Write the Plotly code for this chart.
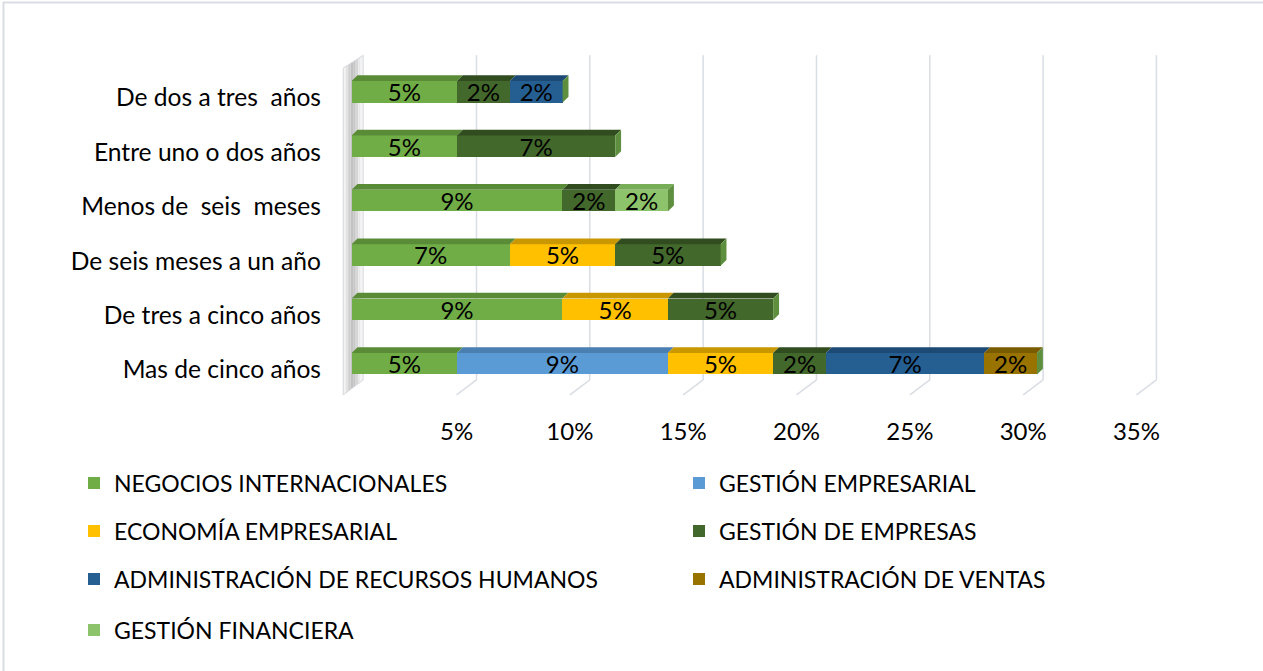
import plotly.graph_objects as go

# ---------------- data ----------------
categories = ["Mas de cinco años", "De tres a cinco años", "De seis meses a un año",
              "Menos de\u00a0 seis\u00a0 meses", "Entre uno o dos años", "De dos a tres\u00a0 años"]

series_names = ["NEGOCIOS INTERNACIONALES", "GESTIÓN EMPRESARIAL", "ECONOMÍA EMPRESARIAL",
                "GESTIÓN DE EMPRESAS", "ADMINISTRACIÓN DE RECURSOS HUMANOS",
                "ADMINISTRACIÓN DE VENTAS", "GESTIÓN FINANCIERA"]

negocios_internacionales = [4.65, 9.30, 6.98, 9.30, 4.65, 4.65]
gestion_empresarial      = [9.30, None, None, None, None, None]
economia_empresarial     = [4.65, 4.65, 4.65, None, None, None]
gestion_de_empresas      = [2.33, 4.65, 4.65, 2.33, 6.98, 2.33]
admin_recursos_humanos   = [6.98, None, None, None, None, 2.33]
admin_ventas             = [2.33, None, None, None, None, None]
gestion_financiera       = [None, None, None, 2.33, None, None]

series_values = [negocios_internacionales, gestion_empresarial, economia_empresarial,
                 gestion_de_empresas, admin_recursos_humanos, admin_ventas, gestion_financiera]

tick_values = [5, 10, 15, 20, 25, 30, 35]
tick_labels = ["5%", "10%", "15%", "20%", "25%", "30%", "35%"]
grid_values = [0, 5, 10, 15, 20, 25, 30, 35]

# ---------------- style ----------------
front_colors = ["#70AD47", "#5B9BD5", "#FFC000", "#43682B", "#255E91", "#997300", "#8DC46B"]
top_colors   = ["#5A8C38", "#4A7FB2", "#C99700", "#314D1F", "#1D4A74", "#795B00", "#78AD58"]
cap_color = "#5E8F3F"
FONT = "Lato"
grid_color = "#D9DDE4"
wall_colors = ["#F3F3F3", "#E2E2E2", "#CFCFCF", "#C2C2C2", "#C6C6C6", "#D6D6D6", "#E8E8E8", "#F4F4F4"]

# legend placement (pixel positions of each legend entry's left edge and centre line)
legend_px = [(74, 483), (679, 483), (74, 531), (679, 531), (74, 579), (679, 579), (74, 630)]

BAR_W = 0.395
DX, DY = 0.26, 0.105          # 3D depth offsets (data units)
BACK_DX, FRONT_DX = 0.51, -0.37
Y_BACK_BOTTOM, Y_FRONT_BOTTOM = -0.30, -0.575
Y_BACK_TOP, Y_FRONT_TOP = 5.67, 5.435

W, H = 1263, 671
ML, MR, MT, MB = 338, 100, 51, 272
XR = [-0.6, 35.8]
YR = [-0.65, 5.75]

ypos = list(range(len(categories)))
pw = W - ML - MR
ph = H - MT - MB


def px_to_paper_x(px):
    return (px - ML) / pw


def px_to_paper_y(py):
    return (H - MB - py) / ph


fig = go.Figure()

legend_names = ["legend"] + [f"legend{k}" for k in range(2, len(series_names) + 1)]

for name, vals, col, lg in zip(series_names, series_values, front_colors, legend_names):
    fig.add_trace(go.Bar(
        name=name, x=vals, y=ypos, orientation="h", width=BAR_W,
        marker=dict(color=col, line=dict(width=0)),
        texttemplate="%{x:.0f}%", textposition="inside", insidetextanchor="middle",
        textfont=dict(family=FONT, size=24, color="#000000"),
        legend=lg, showlegend=True, hoverinfo="skip",
    ))

shapes = []

# left side wall, drawn as gradient strips behind the bars
n = len(wall_colors)
for k, wc in enumerate(wall_colors):
    f0, f1 = k / n, (k + 1) / n
    xa = FRONT_DX + f0 * (BACK_DX - FRONT_DX)
    xb = FRONT_DX + f1 * (BACK_DX - FRONT_DX)
    yba = Y_FRONT_BOTTOM + f0 * (Y_BACK_BOTTOM - Y_FRONT_BOTTOM)
    ybb = Y_FRONT_BOTTOM + f1 * (Y_BACK_BOTTOM - Y_FRONT_BOTTOM)
    yta = Y_FRONT_TOP + f0 * (Y_BACK_TOP - Y_FRONT_TOP)
    ytb = Y_FRONT_TOP + f1 * (Y_BACK_TOP - Y_FRONT_TOP)
    shapes.append(dict(type="path", xref="x", yref="y",
                       path=f"M{xa},{yba} L{xa},{yta} L{xb},{ytb} L{xb},{ybb} Z",
                       fillcolor=wc, line=dict(width=0), layer="below"))
shapes.append(dict(type="path", xref="x", yref="y",
                   path=f"M{FRONT_DX},{Y_FRONT_BOTTOM} L{FRONT_DX},{Y_FRONT_TOP} L{BACK_DX},{Y_BACK_TOP} "
                        f"L{BACK_DX},{Y_BACK_BOTTOM} Z",
                   fillcolor="rgba(0,0,0,0)", line=dict(color="#D5D8DE", width=1), layer="below"))

# back gridlines + floor diagonals
for v in grid_values[1:]:
    shapes.append(dict(type="line", xref="x", yref="y", x0=v + BACK_DX, x1=v + BACK_DX,
                       y0=Y_BACK_BOTTOM, y1=Y_BACK_TOP, line=dict(color=grid_color, width=1.5), layer="below"))
    shapes.append(dict(type="line", xref="x", yref="y", x0=v + BACK_DX, x1=v + FRONT_DX,
                       y0=Y_BACK_BOTTOM, y1=Y_FRONT_BOTTOM, line=dict(color=grid_color, width=1.5), layer="below"))

# 3D top faces and end caps
for i, y in enumerate(ypos):
    base = 0.0
    yt = y + BAR_W / 2
    yb = y - BAR_W / 2
    for vals, tc in zip(series_values, top_colors):
        v = vals[i]
        if not v:
            continue
        x0, x1 = base, base + v
        shapes.append(dict(type="path", xref="x", yref="y",
                           path=f"M{x0},{yt} L{x1},{yt} L{x1+DX},{yt+DY} L{x0+DX},{yt+DY} Z",
                           fillcolor=tc, line=dict(width=0), layer="above"))
        base = x1
    shapes.append(dict(type="path", xref="x", yref="y",
                       path=f"M{base},{yb} L{base},{yt} L{base+DX},{yt+DY} L{base+DX},{yb+DY} Z",
                       fillcolor=cap_color, line=dict(width=0), layer="above"))

# chart-area border (top and left edges)
shapes.append(dict(type="line", xref="paper", yref="paper",
                   x0=px_to_paper_x(3), x1=px_to_paper_x(W), y0=px_to_paper_y(2.5), y1=px_to_paper_y(2.5),
                   line=dict(color="#D9DDE3", width=2)))
shapes.append(dict(type="line", xref="paper", yref="paper",
                   x0=px_to_paper_x(3.5), x1=px_to_paper_x(3.5), y0=px_to_paper_y(2), y1=px_to_paper_y(H),
                   line=dict(color="#D9DDE3", width=2)))

legend_layout = {}
for lg, (lpx, lpy) in zip(legend_names, legend_px):
    legend_layout[lg] = dict(orientation="v", xanchor="left", yanchor="middle",
                             x=px_to_paper_x(lpx), y=px_to_paper_y(lpy),
                             font=dict(family=FONT, size=23, color="#000000"),
                             bgcolor="rgba(0,0,0,0)", borderwidth=0, visible=True)

fig.update_layout(
    width=W, height=H, autosize=False, showlegend=True,
    margin=dict(l=ML, r=MR, t=MT, b=MB, pad=0),
    paper_bgcolor="white", plot_bgcolor="white",
    barmode="stack", bargap=0,
    font=dict(family=FONT, size=20, color="#000000"),
    uniformtext=dict(minsize=24, mode="show"),
    xaxis=dict(range=XR, tickvals=[v + FRONT_DX for v in tick_values], ticktext=tick_labels,
               showgrid=False, zeroline=False, showline=False, ticks="",
               tickfont=dict(family=FONT, size=24, color="#000000"), ticklabelstandoff=16,
               fixedrange=True),
    yaxis=dict(range=YR, tickvals=[y - 0.11 for y in ypos], ticktext=categories,
               showgrid=False, zeroline=False, showline=False, ticks="",
               tickfont=dict(family=FONT, size=24.6, color="#000000"), ticklabelstandoff=16,
               fixedrange=True),
    shapes=shapes,
    **legend_layout,
)

fig.write_html("out.html", config={"displayModeBar": False, "staticPlot": True},
               post_script="document.body.style.margin='0';")
